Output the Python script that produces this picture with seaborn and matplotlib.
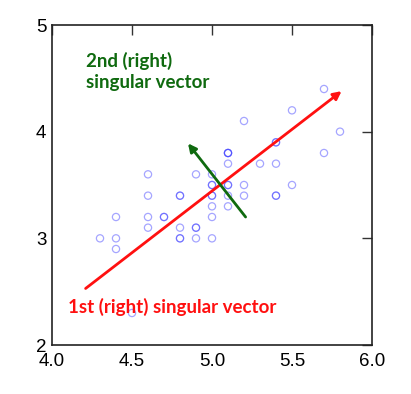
import matplotlib
matplotlib.use("Agg")
import matplotlib.pyplot as plt
import seaborn as sns
import pandas as pd

# Iris setosa: sepal length vs sepal width
sepal_length = [5.1, 4.9, 4.7, 4.6, 5.0, 5.4, 4.6, 5.0, 4.4, 4.9,
                5.4, 4.8, 4.8, 4.3, 5.8, 5.7, 5.4, 5.1, 5.7, 5.1,
                5.4, 5.1, 4.6, 5.1, 4.8, 5.0, 5.0, 5.2, 5.2, 4.7,
                4.8, 5.4, 5.2, 5.5, 4.9, 5.0, 5.5, 4.9, 4.4, 5.1,
                5.0, 4.5, 4.4, 5.0, 5.1, 4.8, 5.1, 4.6, 5.3, 5.0]
sepal_width = [3.5, 3.0, 3.2, 3.1, 3.6, 3.9, 3.4, 3.4, 2.9, 3.1,
               3.7, 3.4, 3.0, 3.0, 4.0, 4.4, 3.9, 3.5, 3.8, 3.8,
               3.4, 3.7, 3.6, 3.3, 3.4, 3.0, 3.4, 3.5, 3.4, 3.2,
               3.1, 3.4, 4.1, 4.2, 3.1, 3.2, 3.5, 3.6, 3.0, 3.4,
               3.5, 2.3, 3.2, 3.5, 3.8, 3.0, 3.8, 3.2, 3.7, 3.3]

# singular vector arrows (tail -> head)
v1_tail = (4.21, 2.53)
v1_head = (5.81, 4.38)
v2_tail = (5.21, 3.20)
v2_head = (4.85, 3.89)

x_ticks = [4.0, 4.5, 5.0, 5.5, 6.0]
x_tick_labels = ["4.0", "4.5", "5.0", "5.5", "6.0"]
y_ticks = [2, 3, 4, 5]
y_tick_labels = ["2", "3", "4", "5"]

label_v1 = "1st (right) singular vector"
label_v2 = "2nd (right)\nsingular vector"

df = pd.DataFrame({"x": sepal_length, "y": sepal_width})

sns.set_theme(style="white")
plt.rcParams["font.family"] = ["Liberation Sans", "DejaVu Sans"]

fig = plt.figure(figsize=(4.11, 3.94), dpi=100)
ax = fig.add_axes([52 / 411, 1 - 345 / 394, 320 / 411, 320 / 394])

sns.scatterplot(data=df, x="x", y="y", ax=ax, marker="o", s=27,
                facecolor="none", edgecolor="#2a2aff", alpha=0.42,
                linewidth=0.9, legend=False)

ax.annotate("", xy=v1_head, xytext=v1_tail,
            arrowprops=dict(arrowstyle="-|>", color="#ff1010", lw=2.0,
                            mutation_scale=12, shrinkA=0, shrinkB=0))
ax.annotate("", xy=v2_head, xytext=v2_tail,
            arrowprops=dict(arrowstyle="-|>", color="#0f6a0f", lw=2.0,
                            mutation_scale=12, shrinkA=0, shrinkB=0))

ax.text(4.1, 2.36, label_v1, color="#ff1010", fontsize=13.5,
        fontweight="bold", family=["Lato", "DejaVu Sans"],
        ha="left", va="center")
ax.text(4.21, 4.565, label_v2, color="#0f6a0f", fontsize=13.5,
        fontweight="bold", family=["Lato", "DejaVu Sans"],
        ha="left", va="center", linespacing=1.3)

ax.set_xlim(4.0, 6.0)
ax.set_ylim(2, 5)
ax.set_xticks(x_ticks)
ax.set_xticklabels(x_tick_labels)
ax.set_yticks(y_ticks)
ax.set_yticklabels(y_tick_labels)
ax.set_xlabel("")
ax.set_ylabel("")
ax.tick_params(axis="both", direction="in", length=7, width=1.0,
               color="#333333", labelsize=13.5, labelcolor="black",
               top=True, right=True)
ax.tick_params(axis="x", pad=6)
ax.tick_params(axis="y", pad=4)
for s in ax.spines.values():
    s.set_color("#222222")
    s.set_linewidth(1.2)
    s.set_visible(True)

fig.savefig("out.png", dpi=100, facecolor="white")
